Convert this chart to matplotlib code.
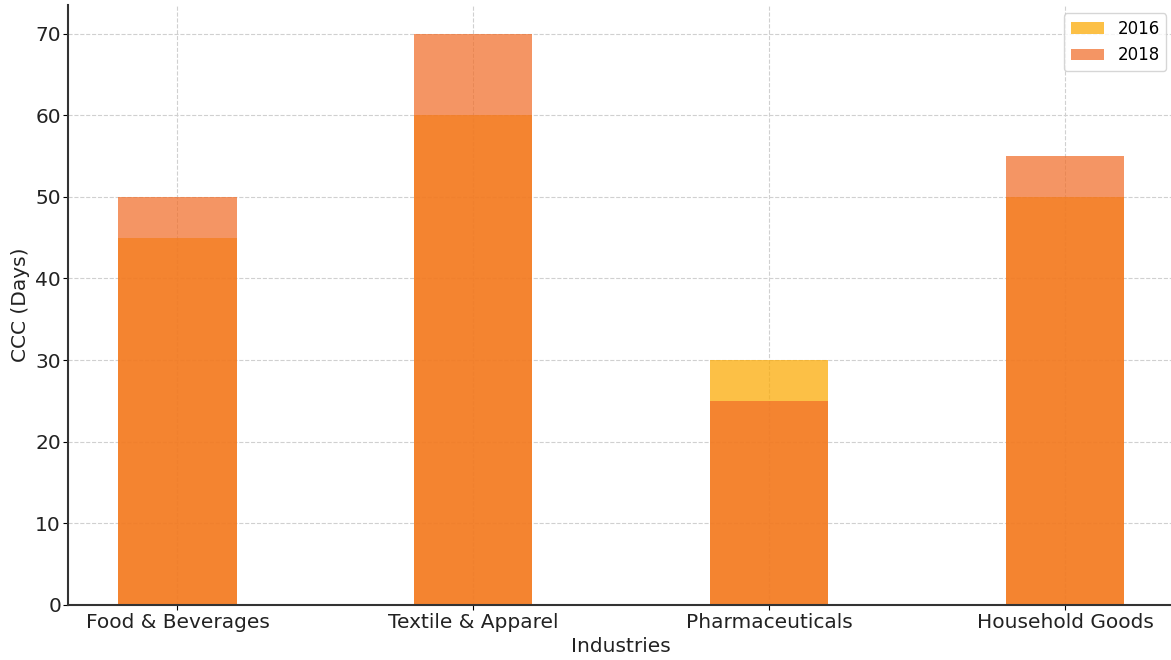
import matplotlib
matplotlib.use("Agg")
import matplotlib.pyplot as plt
import numpy as np

industries = ["Food & Beverages", "Textile & Apparel", "Pharmaceuticals", "Household Goods"]
ccc_2016 = [45, 60, 30, 50]
ccc_2018 = [50, 70, 25, 55]

plt.rcParams.update({"font.family": "DejaVu Sans"})

fig = plt.figure(figsize=(11.71, 6.6), dpi=100)
ax = fig.add_axes([68 / 1171, 1 - 605 / 660, 1 - 68 / 1171 + 0.003, (605 - 5) / 660])

x = np.arange(len(industries))
ax.bar(x, ccc_2016, width=0.4, color="#FBAB08", alpha=0.75, label="2016")
ax.bar(x, ccc_2018, width=0.4, color="#F16D28", alpha=0.72, label="2018")

ax.set_xticks(x)
ax.set_xticklabels(industries, fontsize=14.5, color="#222222")
ax.tick_params(axis="x", pad=2.5)
ax.tick_params(axis="y", labelsize=14.5, labelcolor="#222222", pad=1.5)
ax.set_xlabel("Industries", fontsize=14.5, color="#222222", labelpad=3)
ax.set_ylabel("CCC (Days)", fontsize=14.5, color="#222222", labelpad=4)

ax.set_axisbelow(True)
ax.grid(True, linestyle="--", color="#d0d0d0", linewidth=0.8)
for side in ("top", "right"):
    ax.spines[side].set_visible(False)
for side in ("left", "bottom"):
    ax.spines[side].set_color("#333333")
    ax.spines[side].set_linewidth(1.5)

ax.legend(loc="upper right", fontsize=12)

fig.savefig("out.png", dpi=100)
